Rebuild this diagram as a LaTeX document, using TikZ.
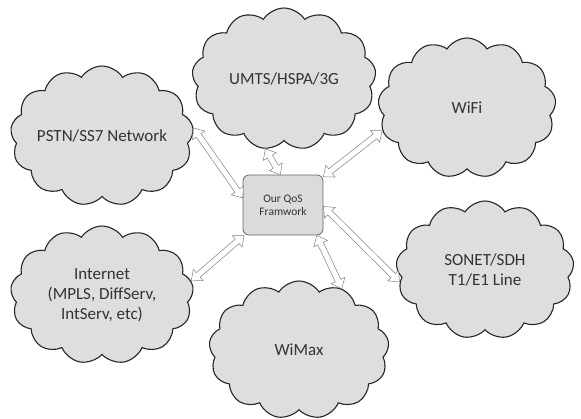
\documentclass[tikz,border=0pt]{standalone}
\usepackage{fontspec}
\setmainfont{Carlito}
\usetikzlibrary{shapes.symbols,calc}
\begin{document}
\begin{tikzpicture}[x=1pt,y=-1pt,
  cloudnode/.style={cloud, cloud puffs=13, cloud puff arc=115, cloud ignores aspect,
    draw=black!85, line width=1.1pt, fill=black!13, text=black!80,
    font=\fontsize{17}{20}\selectfont, align=center, inner sep=0pt},
  hub/.style={draw=black!60, line width=0.8pt, fill=black!14, rounded corners=6pt,
    minimum width=80pt, minimum height=60pt, inner sep=0pt,
    font=\fontsize{11.5}{13}\selectfont, align=center, text=black!80},
  link/.style={draw=black!50, line width=0.5pt, fill=white, line join=miter,
    to path={let \p1=(\tikztostart), \p2=(\tikztotarget),
      \n1={atan2(\y2-\y1,\x2-\x1)}, \n2={veclen(\x2-\x1,\y2-\y1)} in
      ([shift={(\p1)},rotate=\n1]0,0) -- ([shift={(\p1)},rotate=\n1]9,7.5)
      -- ([shift={(\p1)},rotate=\n1]9,3) -- ([shift={(\p1)},rotate=\n1]\n2-9,3)
      -- ([shift={(\p1)},rotate=\n1]\n2-9,7.5) -- ([shift={(\p1)},rotate=\n1]\n2,0)
      -- ([shift={(\p1)},rotate=\n1]\n2-9,-7.5) -- ([shift={(\p1)},rotate=\n1]\n2-9,-3)
      -- ([shift={(\p1)},rotate=\n1]9,-3) -- ([shift={(\p1)},rotate=\n1]9,-7.5) -- cycle}}
]
\useasboundingbox (0,0) rectangle (581,418);

\node[hub] (hub) at (283,205) {Our QoS\\Framwork};

\node[cloudnode, minimum width=184pt, minimum height=142pt] (umts) at (284,79) {UMTS/HSPA/3G};
\node[cloudnode, minimum width=178pt, minimum height=140pt] (wifi) at (467,108) {WiFi};
\node[cloudnode, minimum width=183pt, minimum height=140pt] (pstn) at (102,136) {PSTN/SS7 Network};
\node[cloudnode, minimum width=183pt, minimum height=138pt] (inet) at (102,295) {Internet\\(MPLS, DiffServ,\\IntServ, etc)};
\node[cloudnode, minimum width=180pt, minimum height=138pt] (wimax) at (299,350) {WiMax};
\node[cloudnode, minimum width=178pt, minimum height=138pt] (sonet) at (485,270) {SONET/SDH\\T1/E1 Line};

\draw[link] (hub.170) to (pstn.5);
\draw[link] (hub.95) to (umts.255);
\draw[link] (hub.35) to (wifi.195);
\draw[link] (hub.-2) to (sonet.188);
\draw[link] (hub.-42) to (wimax.55);
\draw[link] (hub.218) to (inet.9);
\end{tikzpicture}
\end{document}
